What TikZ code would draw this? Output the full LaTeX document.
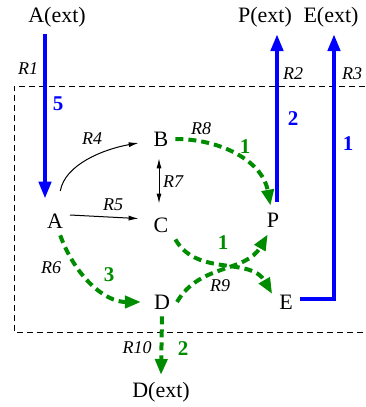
\documentclass[tikz,border=0pt]{standalone}
\usepackage{fontspec}
\setmainfont{Liberation Serif}
\usetikzlibrary{arrows.meta}
\definecolor{fluxgreen}{RGB}{0,140,0}

\begin{document}
\begin{tikzpicture}[
  x=0.5pt, y=-0.5pt,
  met/.style={font=\fontsize{11}{13}\selectfont},
  rlab/.style={font=\fontsize{9}{10}\selectfont\itshape},
  num/.style={font=\fontsize{10.5}{12}\selectfont\bfseries},
  flux/.style={blue, line width=2.2pt, -{Triangle[length=8.5pt,width=6pt]}},
  flow/.style={fluxgreen, line width=2pt, dash pattern=on 4pt off 2.5pt, -{Triangle[length=8pt,width=6pt]}},
  react/.style={black, line width=0.5pt, -{Latex[length=5pt,width=2.5pt]}}
]
\useasboundingbox (0,0) rectangle (365,407);
% system boundary
\draw[dashed, dash pattern=on 3pt off 2pt, line width=0.5pt] (365,86) -- (14,86) -- (14,332) -- (365,332);

% metabolites
\node[met] (Aext) at (57,17) {A(ext)};
\node[met] (Pext) at (265,17) {P(ext)};
\node[met] (Eext) at (331,17) {E(ext)};
\node[met] (A) at (55,221) {A};
\node[met] (B) at (161,139) {B};
\node[met] (C) at (161,225) {C};
\node[met] (P) at (273,220) {P};
\node[met] (D) at (162,302) {D};
\node[met] (E) at (286,302) {E};
\node[met] (Dext) at (161,392) {D(ext)};

% exchange fluxes
\draw[flux] ([xshift=-6pt]Aext.south) -- ([xshift=-5pt,yshift=4pt]A.north);
\draw[flux] ([xshift=2pt,yshift=2pt]P.north) -- ([xshift=6pt]Pext.south);
\draw[flux] ([yshift=1.5pt]E.east) -| ([xshift=1.5pt]Eext.south);
\draw[flow] (D.south) -- (Dext.north);

% internal reactions
\draw[react, shorten <=8pt, shorten >=4pt] (A) to[out=80, in=190] (B);
\draw[react, shorten >=4pt] ([yshift=3pt]A.east) -- ([yshift=3pt]C.west);
\draw[react, {Latex[length=5pt,width=2.5pt]}-{Latex[length=5pt,width=2.5pt]}, shorten <=2.5pt, shorten >=3.5pt] ([xshift=-1pt]B.south) -- ([xshift=-1pt]C.north);
\draw[flow, shorten >=3pt] (A) to[out=-70, in=180] (D);
\draw[flow] (B.east) to[out=0, in=100] (P);
\draw[flow] (C.south east) to[out=-60, in=120] (E.150);
\draw[flow] (D.east) to[out=60, in=240] (P.250);

% reaction names
\node[rlab] (r1) at (28,69) {R1};
\node[rlab] (r2) at (293,74) {R2};
\node[rlab] (r3) at (352,74) {R3};
\node[rlab] (r4) at (92,139) {R4};
\node[rlab] (r5) at (113,205) {R5};
\node[rlab] (r6) at (51,268) {R6};
\node[rlab] (r7) at (173,182) {R7};
\node[rlab] (r8) at (201,129) {R8};
\node[rlab] (r9) at (220,286) {R9};
\node[rlab] (r10) at (137,348) {R10};

% flux values
\node[num, blue] (v1) at (58,104) {5};
\node[num, blue] (v2) at (293,119) {2};
\node[num, blue] (v3) at (348,144) {1};
\node[num, fluxgreen] (v8) at (245,147) {1};
\node[num, fluxgreen] (v9) at (223,243) {1};
\node[num, fluxgreen] (v6) at (109,275) {3};
\node[num, fluxgreen] (v10) at (183,349) {2};
\end{tikzpicture}
\end{document}
